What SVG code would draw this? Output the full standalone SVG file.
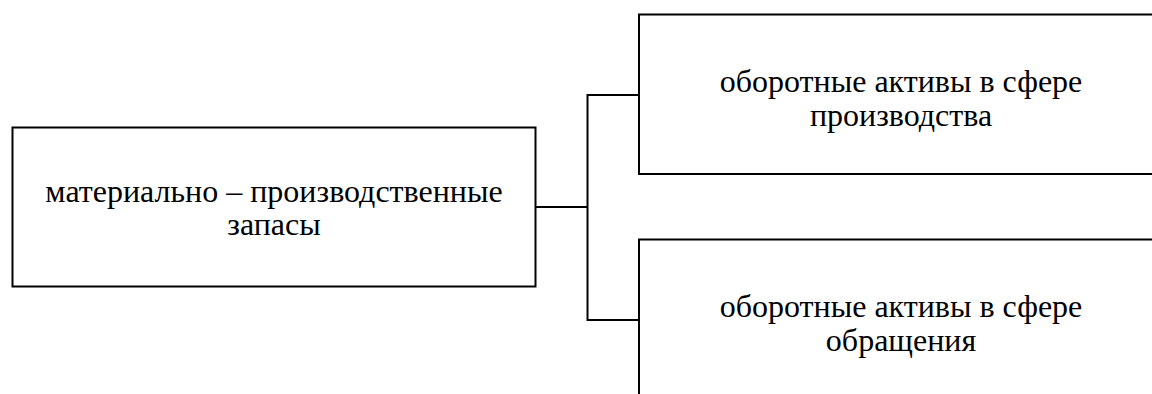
<svg xmlns="http://www.w3.org/2000/svg" width="1152" height="394" viewBox="0 0 1152 394">
<style>
.box{fill:#fff;stroke:#000;stroke-width:2}
.ln{fill:none;stroke:#000;stroke-width:2}
.t{font-family:"Liberation Serif","Times New Roman",serif;font-size:32px;fill:#000;text-anchor:middle}
</style>
<rect width="1152" height="394" fill="#fff"/>
<g id="connectors">
<polyline class="ln" points="536,207 587.5,207"/>
<polyline class="ln" points="639,95 587.5,95 587.5,320 639,320"/>
</g>
<g id="node-left">
<rect class="box" x="12.5" y="127.5" width="523" height="159"/>
<text class="t" x="274" y="202">материально – производственные</text>
<text class="t" x="274" y="235">запасы</text>
</g>
<g id="node-top">
<rect class="box" x="639" y="14.5" width="540" height="159.5"/>
<text class="t" x="901" y="92">оборотные активы в сфере</text>
<text class="t" x="901" y="126">производства</text>
</g>
<g id="node-bottom">
<rect class="box" x="639" y="239.5" width="540" height="200"/>
<text class="t" x="901" y="317">оборотные активы в сфере</text>
<text class="t" x="901" y="351">обращения</text>
</g>
</svg>
